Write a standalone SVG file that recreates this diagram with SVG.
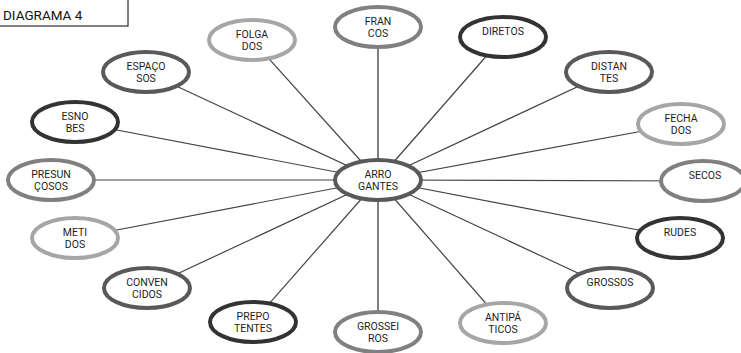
<svg xmlns="http://www.w3.org/2000/svg" width="741" height="353" viewBox="0 0 741 353">
<style>
.bg{fill:#fff}
.n{fill:#fff;stroke-width:4}
.d{stroke:#333333}
.dm{stroke:#595959}
.m{stroke:#808080}
.l{stroke:#a6a6a6}
.t{font-family:Roboto,"DejaVu Sans",sans-serif;font-size:10.5px;fill:#1e1e1e;text-anchor:middle}
.c{stroke:#444;stroke-width:1.2}
.cv{stroke:#808080;stroke-width:2}
.title{font-family:Roboto,"DejaVu Sans",sans-serif;font-size:13.5px;fill:#111}
</style>
<rect class="bg" x="0" y="0" width="741" height="353"/>
<g id="title">
<rect x="-1" y="-1" width="129" height="27" fill="#fff" stroke="#000" stroke-width="1"/>
<text class="title" x="3" y="20">DIAGRAMA 4</text>
</g>
<g id="connectors">
<line class="c" x1="378" y1="180" x2="252" y2="40"/>
<line class="cv" x1="378" y1="180" x2="378" y2="27"/>
<line class="c" x1="378" y1="180" x2="503" y2="37"/>
<line class="c" x1="378" y1="180" x2="609" y2="72"/>
<line class="c" x1="378" y1="180" x2="681" y2="124"/>
<line class="c" x1="378" y1="180" x2="703" y2="181"/>
<line class="c" x1="378" y1="180" x2="680" y2="238"/>
<line class="c" x1="378" y1="180" x2="610" y2="288"/>
<line class="c" x1="378" y1="180" x2="503" y2="323"/>
<line class="cv" x1="378" y1="180" x2="378" y2="332"/>
<line class="c" x1="378" y1="180" x2="253" y2="322"/>
<line class="c" x1="378" y1="180" x2="147" y2="288"/>
<line class="c" x1="378" y1="180" x2="75" y2="238"/>
<line class="c" x1="378" y1="180" x2="51" y2="180"/>
<line class="c" x1="378" y1="180" x2="75" y2="122"/>
<line class="c" x1="378" y1="180" x2="146" y2="72"/>
</g>
<g id="folgados"><ellipse class="n l" cx="252" cy="40" rx="43" ry="20"/><text class="t" x="252" y="38">FOLGA</text><text class="t" x="252" y="50">DOS</text></g>
<g id="francos"><ellipse class="n m" cx="378" cy="27" rx="43" ry="20"/><text class="t" x="378" y="25">FRAN</text><text class="t" x="378" y="37">COS</text></g>
<g id="diretos"><ellipse class="n d" cx="503" cy="37" rx="43" ry="20"/><text class="t" x="503" y="35">DIRETOS</text></g>
<g id="distantes"><ellipse class="n dm" cx="609" cy="72" rx="43" ry="20"/><text class="t" x="609" y="70">DISTAN</text><text class="t" x="609" y="82">TES</text></g>
<g id="fechados"><ellipse class="n l" cx="681" cy="124" rx="43" ry="20"/><text class="t" x="681" y="122">FECHA</text><text class="t" x="681" y="134">DOS</text></g>
<g id="secos"><ellipse class="n m" cx="703" cy="181" rx="42" ry="20"/><text class="t" x="705" y="179">SECOS</text></g>
<g id="rudes"><ellipse class="n d" cx="680" cy="238" rx="43" ry="20"/><text class="t" x="680" y="236">RUDES</text></g>
<g id="grossos"><ellipse class="n dm" cx="610" cy="288" rx="43" ry="20"/><text class="t" x="610" y="286">GROSSOS</text></g>
<g id="antipaticos"><ellipse class="n l" cx="503" cy="323" rx="43" ry="20"/><text class="t" x="503" y="321">ANTIPÁ</text><text class="t" x="503" y="333">TICOS</text></g>
<g id="grosseiros"><ellipse class="n m" cx="378" cy="332" rx="43" ry="20"/><text class="t" x="378" y="330">GROSSEI</text><text class="t" x="378" y="342">ROS</text></g>
<g id="prepotentes"><ellipse class="n d" cx="253" cy="322" rx="43" ry="20"/><text class="t" x="253" y="320">PREPO</text><text class="t" x="253" y="332">TENTES</text></g>
<g id="convencidos"><ellipse class="n dm" cx="147" cy="288" rx="43" ry="20"/><text class="t" x="147" y="286">CONVEN</text><text class="t" x="147" y="298">CIDOS</text></g>
<g id="metidos"><ellipse class="n l" cx="75" cy="238" rx="43" ry="20"/><text class="t" x="75" y="236">METI</text><text class="t" x="75" y="248">DOS</text></g>
<g id="presuncosos"><ellipse class="n m" cx="51" cy="180" rx="43" ry="20"/><text class="t" x="51" y="178">PRESUN</text><text class="t" x="51" y="190">ÇOSOS</text></g>
<g id="esnobes"><ellipse class="n d" cx="75" cy="122" rx="43" ry="20"/><text class="t" x="75" y="120">ESNO</text><text class="t" x="75" y="132">BES</text></g>
<g id="espacosos"><ellipse class="n dm" cx="146" cy="72" rx="43" ry="20"/><text class="t" x="146" y="70">ESPAÇO</text><text class="t" x="146" y="82">SOS</text></g>
<g id="arrogantes"><ellipse class="n dm" cx="378" cy="180" rx="43" ry="20"/><text class="t" x="378" y="178">ARRO</text><text class="t" x="378" y="190">GANTES</text></g>
</svg>
